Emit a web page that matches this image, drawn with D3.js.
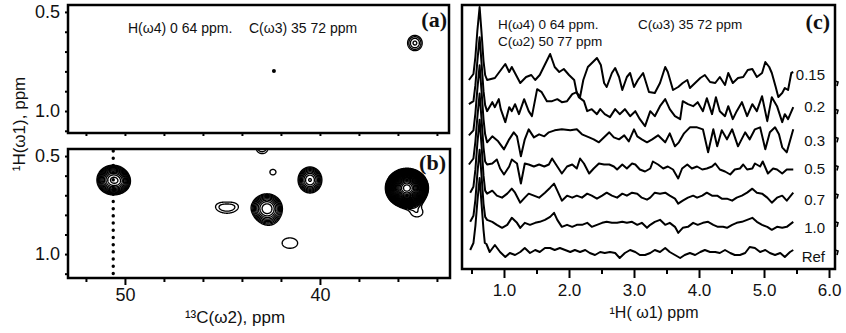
<!DOCTYPE html>
<html><head><meta charset="utf-8">
<script src="https://cdn.jsdelivr.net/npm/d3@7"></script>
<style>
body{margin:0;background:#fff;}
svg{display:block;background:#fff;}
text{font-family:"Liberation Sans",Arial,Helvetica,sans-serif;fill:#111;}
.plabel{font-family:"Liberation Serif","Times New Roman",serif;font-weight:bold;}
</style></head><body>
<svg id="chart" width="846" height="333"></svg>
<script>
// ---------------- data ----------------
const hTicks2D = [0.5, 0.6, 0.7, 0.8, 0.9, 1.0, 1.1];
const hLabels2D = [0.5, 1.0];
const cTicks = [52, 50, 48, 46, 44, 42, 40, 38, 36, 34];
const cLabels = [50, 40];
const hTicks1D = [0.5, 1.0, 1.5, 2.0, 2.5, 3.0, 3.5, 4.0, 4.5, 5.0, 5.5, 6.0];
const hLabels1D = [1.0, 2.0, 3.0, 4.0, 5.0, 6.0];

// 2D peaks: carbon ppm, proton ppm, amplitude, widths (ppm)
const peaksA = [
  {c:35.13, h:0.657, amp:1.9, sc:0.33, sh:0.034}
];
const dotsA = [ {c:42.36, h:0.798} ];
const peaksB = [
  {c:50.62, h:0.622, amp:9,    sc:0.39, sh:0.036},
  {c:50.22, h:0.632, amp:2,    sc:0.28, sh:0.028},
  {c:42.97, h:0.455, amp:1.5,  sc:0.35, sh:0.035},
  {c:42.41, h:0.582, amp:1.06, sc:0.45, sh:0.040},
  {c:44.77, h:0.772, amp:0.88, sc:0.50, sh:0.035},
  {c:45.25, h:0.752, amp:0.6,  sc:0.40, sh:0.030},
  {c:44.30, h:0.752, amp:0.6,  sc:0.40, sh:0.030},
  {c:42.72, h:0.765, amp:5.5,  sc:0.42, sh:0.039},
  {c:42.62, h:0.815, amp:0.8,  sc:0.40, sh:0.040},
  {c:40.51, h:0.622, amp:5,    sc:0.34, sh:0.037},
  {c:41.54, h:0.944, amp:1.15, sc:0.75, sh:0.050},
  {c:35.54, h:0.663, amp:200,  sc:0.34, sh:0.031},
  {c:35.03, h:0.786, amp:1.2,  sc:0.50, sh:0.040}
];
const sliceCarbon = 50.6;
const contourLevels = [1,1.22,1.49,1.82,2.22,2.7,3.3,4.0,4.9,6.0,7.3,8.9,10.9,13.3,16.2,19.7,24,29.3,35.8,43.7,53.3,65,79.3,96.7,118,144,175];

// 1D traces: [1H ppm, intensity]
const traceLabels = ["0.15","0.2","0.3","0.5","0.7","1.0","Ref"];
const trace015 = [[0.46,3],[0.53,9],[0.56,26],[0.59,52],[0.625,76],[0.655,50],[0.685,22],[0.71,8],[0.74,3],[0.86,5],[1.02,19],[1.08,11],[1.12,16],[1.25,0],[1.34,6],[1.42,8],[1.48,3],[1.55,8],[1.71,29],[1.78,16],[1.85,11],[1.92,14],[2.0,8],[2.08,3],[2.12,-10],[2.17,-14],[2.22,3],[2.29,16],[2.43,25],[2.49,18],[2.54,0],[2.58,-4],[2.66,10],[2.71,15],[2.77,6],[2.82,-7],[2.89,6],[2.94,10],[3.0,-4],[3.06,3],[3.14,10],[3.23,-9],[3.32,-10],[3.4,0],[3.48,16],[3.52,11],[3.6,-7],[3.68,-4],[3.75,0],[3.82,3],[3.86,-5],[3.94,0],[4.02,5],[4.09,8],[4.17,1],[4.25,0],[4.32,6],[4.4,-2],[4.45,10],[4.52,0],[4.6,5],[4.68,6],[4.75,13],[4.82,14],[4.89,6],[4.97,10],[5.02,21],[5.08,16],[5.12,10],[5.18,-4],[5.22,-14],[5.28,-10],[5.32,-5],[5.37,-7],[5.42,10],[5.45,11]];
const trace02 = [[0.46,7],[0.53,10],[0.56,26],[0.59,50],[0.625,74],[0.655,48],[0.685,20],[0.71,6],[0.74,0],[0.82,9],[0.86,4],[0.92,12],[0.95,2],[1.02,-11],[1.08,4],[1.12,0],[1.17,7],[1.23,-3],[1.31,12],[1.38,0],[1.43,-5],[1.51,22],[1.58,19],[1.66,10],[1.74,10],[1.82,12],[1.89,9],[1.97,10],[2.05,17],[2.12,19],[2.15,14],[2.23,10],[2.28,0],[2.35,2],[2.43,-3],[2.48,2],[2.55,-3],[2.63,-6],[2.71,2],[2.78,-3],[2.86,2],[2.94,-5],[3.02,0],[3.09,-8],[3.17,-15],[3.25,0],[3.32,-5],[3.4,5],[3.48,12],[3.55,2],[3.63,-5],[3.71,-8],[3.75,10],[3.83,7],[3.91,5],[3.98,9],[4.06,0],[4.12,13],[4.2,-3],[4.26,14],[4.32,0],[4.4,-5],[4.45,5],[4.52,-8],[4.58,0],[4.66,9],[4.74,-5],[4.82,7],[4.89,0],[4.97,15],[5.05,-10],[5.12,14],[5.2,5],[5.28,-11],[5.32,-3],[5.37,-8],[5.45,4]];
const trace03 = [[0.46,4],[0.53,9],[0.56,26],[0.59,50],[0.625,74],[0.655,48],[0.685,20],[0.71,5],[0.74,-3],[0.82,3],[0.91,-2],[1.0,-10],[1.08,0],[1.15,7],[1.2,3],[1.26,-17],[1.32,0],[1.38,10],[1.46,2],[1.54,5],[1.62,3],[1.69,7],[1.78,9],[1.89,10],[2.02,9],[2.12,10],[2.2,5],[2.31,2],[2.38,0],[2.46,-3],[2.54,2],[2.62,7],[2.69,2],[2.77,0],[2.85,4],[2.92,-2],[3.0,10],[3.05,3],[3.12,0],[3.2,-3],[3.28,0],[3.37,4],[3.48,-3],[3.55,6],[3.63,-7],[3.69,-3],[3.77,6],[3.86,12],[3.97,12],[4.06,10],[4.14,-13],[4.22,10],[4.28,-7],[4.35,9],[4.43,0],[4.51,10],[4.6,-7],[4.71,7],[4.78,0],[4.86,10],[4.94,12],[5.02,-10],[5.09,7],[5.17,12],[5.23,5],[5.28,-8],[5.35,-13],[5.45,10]];
const trace05 = [[0.46,3],[0.53,9],[0.56,26],[0.59,50],[0.625,74],[0.655,48],[0.685,20],[0.71,6],[0.74,3],[0.82,4],[0.89,8],[0.94,-1],[1.0,-7],[1.08,1],[1.12,8],[1.2,4],[1.26,-16],[1.32,4],[1.38,3],[1.46,1],[1.54,3],[1.62,1],[1.69,3],[1.74,9],[1.82,1],[1.89,-6],[1.97,1],[2.05,3],[2.12,-1],[2.17,9],[2.23,4],[2.31,-6],[2.38,-1],[2.46,4],[2.54,3],[2.62,3],[2.69,1],[2.74,-2],[2.82,3],[2.89,-1],[2.97,4],[3.02,3],[3.09,-2],[3.17,-4],[3.25,-1],[3.29,6],[3.37,3],[3.45,-1],[3.52,1],[3.6,-2],[3.68,-11],[3.74,-1],[3.82,3],[3.89,-1],[3.97,1],[4.05,-2],[4.12,-1],[4.2,1],[4.25,4],[4.32,-2],[4.4,-4],[4.48,-7],[4.55,-2],[4.63,-1],[4.68,3],[4.74,-2],[4.82,-1],[4.86,4],[4.94,1],[4.98,6],[5.06,-6],[5.14,-1],[5.2,-2],[5.28,-6],[5.35,-2],[5.45,-2]];
const trace07 = [[0.48,3],[0.53,9],[0.56,26],[0.59,52],[0.625,76],[0.655,50],[0.685,20],[0.71,5],[0.74,2],[0.82,5],[0.89,0],[0.97,-2],[1.05,2],[1.12,7],[1.17,3],[1.25,-7],[1.32,-2],[1.38,2],[1.46,0],[1.54,-2],[1.63,3],[1.71,8],[1.77,12],[1.82,5],[1.89,-5],[1.97,0],[2.05,-2],[2.12,0],[2.2,-2],[2.28,2],[2.35,0],[2.43,-3],[2.51,0],[2.58,3],[2.66,0],[2.74,-2],[2.82,2],[2.89,0],[2.97,3],[3.05,2],[3.12,-2],[3.2,-4],[3.25,-2],[3.32,3],[3.4,2],[3.48,3],[3.55,0],[3.63,-3],[3.68,-8],[3.75,-5],[3.83,-2],[3.91,0],[3.97,-2],[4.05,0],[4.12,3],[4.2,0],[4.28,0],[4.35,-3],[4.43,-3],[4.51,-5],[4.58,-2],[4.66,0],[4.74,3],[4.82,7],[4.89,3],[4.97,2],[5.05,-2],[5.12,-7],[5.2,-2],[5.28,0],[5.35,-5],[5.45,3]];
const trace10 = [[0.48,2],[0.53,8],[0.56,24],[0.59,50],[0.625,74],[0.655,48],[0.685,20],[0.71,7],[0.74,4],[0.82,2],[0.89,-1],[0.97,-4],[1.05,-1],[1.12,6],[1.2,1],[1.25,-4],[1.32,1],[1.4,-1],[1.48,1],[1.55,2],[1.63,4],[1.71,7],[1.77,11],[1.82,4],[1.89,-3],[1.97,-1],[2.05,-3],[2.12,-1],[2.2,-1],[2.28,1],[2.35,-3],[2.43,-1],[2.51,1],[2.58,2],[2.66,1],[2.74,1],[2.82,2],[2.89,1],[2.97,2],[3.05,-1],[3.12,1],[3.2,-4],[3.25,-1],[3.32,2],[3.4,4],[3.48,-1],[3.55,1],[3.63,-3],[3.68,-9],[3.75,-4],[3.83,-3],[3.91,1],[3.98,-1],[4.06,1],[4.14,2],[4.22,-1],[4.29,-3],[4.37,-3],[4.43,-4],[4.51,-1],[4.58,1],[4.66,2],[4.74,4],[4.82,6],[4.89,2],[4.97,-1],[5.05,-3],[5.12,-6],[5.2,-3],[5.28,-4],[5.35,-3],[5.45,2]];
const traceRef = [[0.48,2],[0.53,9],[0.56,26],[0.59,50],[0.625,74],[0.655,48],[0.685,22],[0.705,9],[0.73,8],[0.78,0],[0.86,7],[0.94,0],[1.02,-5],[1.09,-1],[1.17,-3],[1.25,0],[1.32,4],[1.4,-1],[1.48,2],[1.55,0],[1.63,4],[1.71,4],[1.78,2],[1.86,4],[1.94,2],[2.02,0],[2.09,2],[2.17,0],[2.25,2],[2.32,-1],[2.4,-3],[2.48,0],[2.55,-1],[2.63,0],[2.71,-1],[2.78,-6],[2.86,-1],[2.94,2],[3.02,0],[3.09,-3],[3.17,-3],[3.25,-1],[3.32,2],[3.4,0],[3.48,4],[3.55,0],[3.63,-3],[3.71,-6],[3.78,-3],[3.86,-1],[3.94,-3],[4.02,0],[4.09,2],[4.17,0],[4.25,0],[4.32,-1],[4.4,2],[4.48,-1],[4.55,-3],[4.63,-3],[4.71,-1],[4.78,5],[4.86,4],[4.94,0],[5.02,2],[5.09,-1],[5.17,-3],[5.25,-1],[5.32,-5],[5.4,0],[5.45,2]];
const traces = [trace015, trace02, trace03, trace05, trace07, trace10, traceRef];

// ---------------- layout ----------------
const svg = d3.select("#chart");
const boxA = {x0:68, y0:5,   x1:449, y1:133};
const boxB = {x0:68, y0:149, x1:450, y1:278};
const boxC = {x0:462, y0:5,  x1:835, y1:269};
const labelDy = [-8, -4, 1, 1, 4, 4, 5];

const xCarbon = d3.scaleLinear().domain([52.92, 33.33]).range([68, 450]);
const yA = d3.scaleLinear().domain([0.465, 1.111]).range([boxA.y0, boxA.y1]);
const yB = d3.scaleLinear().domain([0.464, 1.122]).range([boxB.y0, boxB.y1]);
const xH = d3.scaleLinear().domain([0.354, 6.092]).range([boxC.x0, boxC.x1]);
const yOff = d3.scalePoint().domain(traceLabels).range([83, 252]);
const amp = d3.scaleLinear().domain([0, 100]).range([0, 100]);

const defs = svg.append("defs");
[["clipA",boxA],["clipB",boxB],["clipC",boxC]].forEach(([id,b]) => {
  defs.append("clipPath").attr("id", id).append("rect")
    .attr("x", b.x0).attr("y", b.y0).attr("width", b.x1-b.x0).attr("height", b.y1-b.y0);
});

function drawContours(peaks, xs, ys, box, clip) {
  const k = 2;
  const nx = Math.round((box.x1-box.x0)*k), ny = Math.round((box.y1-box.y0)*k);
  const vals = new Float64Array(nx*ny);
  for (let j=0;j<ny;j++) {
    const h = ys.invert(box.y0 + (j+0.5)/k);
    for (let i=0;i<nx;i++) {
      const c = xs.invert(box.x0 + (i+0.5)/k);
      let v = 0;
      for (const p of peaks) {
        const dc=(c-p.c)/p.sc, dh=(h-p.h)/p.sh;
        v += p.amp*Math.exp(-0.5*(dc*dc+dh*dh));
      }
      vals[j*nx+i] = v;
    }
  }
  const cs = d3.contours().size([nx,ny]).thresholds(contourLevels)(vals);
  const path = d3.geoPath(d3.geoIdentity().scale(1/k).translate([box.x0, box.y0]));
  svg.append("g").attr("clip-path", `url(#${clip})`)
    .selectAll("path").data(cs).join("path")
    .attr("d", path).attr("fill","none").attr("stroke","#000").attr("stroke-width",1.35)
    .attr("stroke-linejoin","round");
}

drawContours(peaksA, xCarbon, yA, boxA, "clipA");
drawContours(peaksB, xCarbon, yB, boxB, "clipB");

svg.append("g").selectAll("circle").data(dotsA).join("circle")
  .attr("cx", d=>xCarbon(d.c)).attr("cy", d=>yA(d.h)).attr("r", 2).attr("fill","#000");

// dotted slice line
svg.append("line")
  .attr("x1", xCarbon(sliceCarbon)).attr("x2", xCarbon(sliceCarbon))
  .attr("y1", boxB.y0+2).attr("y2", boxB.y1-3)
  .attr("stroke","#000").attr("stroke-width",3.4).attr("stroke-linecap","round")
  .attr("stroke-dasharray","0.1 7.1");

// 1D traces
const gT = svg.append("g").attr("clip-path","url(#clipC)");
traces.forEach((t, idx) => {
  const base = yOff(traceLabels[idx]);
  const line = d3.line().x(d=>xH(d[0])).y(d=>base - amp(d[1]));
  gT.append("path").attr("d", line(t)).attr("fill","none")
    .attr("stroke","#000").attr("stroke-width",2).attr("stroke-linejoin","round");
});
svg.append("g").selectAll("text").data(traceLabels).join("text")
  .attr("x", 825).attr("y", (d,i)=>yOff(d)+labelDy[i]).attr("dy","0.35em")
  .attr("text-anchor","end").attr("font-size",15).text(d=>d);
svg.append("g").selectAll("path").data(traceLabels).join("path")
  .attr("d", d => `M${boxC.x1},${yOff(d)-2} l3,1 l-1,4`)
  .attr("fill","none").attr("stroke","#000").attr("stroke-width",1.6);

// frames
[boxA, boxB, boxC].forEach(b => {
  svg.append("rect").attr("x", b.x0).attr("y", b.y0).attr("width", b.x1-b.x0).attr("height", b.y1-b.y0)
    .attr("fill","none").attr("stroke","#000").attr("stroke-width",2.5);
});

// axes
function styleAxis(g) {
  g.select(".domain").remove();
  g.selectAll(".tick line").attr("stroke","#000").attr("stroke-width",2);
}
// panel a
svg.append("g").attr("transform",`translate(${boxA.x0},0)`)
  .call(d3.axisLeft(yA).tickValues(hTicks2D).tickSize(3).tickPadding(5)
    .tickFormat(d => hLabels2D.includes(d) ? d.toFixed(1) : ""))
  .call(styleAxis)
  .call(g => g.selectAll("text").attr("font-size",18).attr("font-family",null).attr("fill","#111"));
svg.append("g").attr("transform",`translate(0,${boxA.y1})`)
  .call(d3.axisBottom(xCarbon).tickValues(cTicks).tickSize(3).tickFormat(""))
  .call(styleAxis);
// panel b
svg.append("g").attr("transform",`translate(${boxB.x0},0)`)
  .call(d3.axisLeft(yB).tickValues(hTicks2D).tickSize(3).tickPadding(5)
    .tickFormat(d => hLabels2D.includes(d) ? d.toFixed(1) : ""))
  .call(styleAxis)
  .call(g => g.selectAll("text").attr("font-size",18).attr("font-family",null).attr("fill","#111"));
svg.append("g").attr("transform",`translate(0,${boxB.y1})`)
  .call(d3.axisBottom(xCarbon).tickValues(cTicks).tickSize(4)
    .tickFormat(d => cLabels.includes(d) ? d : ""))
  .call(styleAxis)
  .call(g => {
    g.selectAll(".tick line").attr("y2", d => cLabels.includes(d) ? 7 : 4);
    g.selectAll("text").attr("font-size",18).attr("font-family",null).attr("fill","#111")
      .attr("dy",null).attr("y",23);
  });
// panel c
svg.append("g").attr("transform",`translate(0,${boxC.y1})`)
  .call(d3.axisBottom(xH).tickValues(hTicks1D).tickSize(5)
    .tickFormat(d => hLabels1D.includes(d) ? d.toFixed(1) : ""))
  .call(styleAxis)
  .call(g => {
    g.selectAll(".tick line").attr("y2", d => hLabels1D.includes(d) ? 9 : 5);
    g.selectAll("text").attr("font-size",17).attr("font-family",null).attr("fill","#111")
      .attr("dy",null).attr("y",27);
  });

// titles & annotations
svg.append("text").attr("transform","translate(25,124) rotate(-90)")
  .attr("text-anchor","middle").attr("font-size",17).text("¹H(ω1), ppm");
svg.append("text").attr("x",235).attr("y",323).attr("text-anchor","middle")
  .attr("font-size",17).text("¹³C(ω2), ppm");
svg.append("text").attr("x",654).attr("y",318).attr("text-anchor","middle")
  .attr("font-size",16).text("¹H( ω1) ppm");

svg.append("text").attr("x",128).attr("y",33).attr("font-size",14).text("H(ω4) 0 64 ppm.");
svg.append("text").attr("x",249).attr("y",33).attr("font-size",14).text("C(ω3) 35 72 ppm");
svg.append("text").attr("x",498).attr("y",29).attr("font-size",13.5).text("H(ω4) 0 64 ppm.");
svg.append("text").attr("x",638).attr("y",29).attr("font-size",13.5).text("C(ω3) 35 72 ppm");
svg.append("text").attr("x",498).attr("y",46).attr("font-size",13.5).text("C(ω2) 50 77 ppm");

svg.append("text").attr("class","plabel").attr("x",447).attr("y",27).attr("text-anchor","end").attr("font-size",22).text("(a)");
svg.append("text").attr("class","plabel").attr("x",446).attr("y",170).attr("text-anchor","end").attr("font-size",22).text("(b)");
svg.append("text").attr("class","plabel").attr("x",830).attr("y",29).attr("text-anchor","end").attr("font-size",22).text("(c)");
</script>
</body></html>
